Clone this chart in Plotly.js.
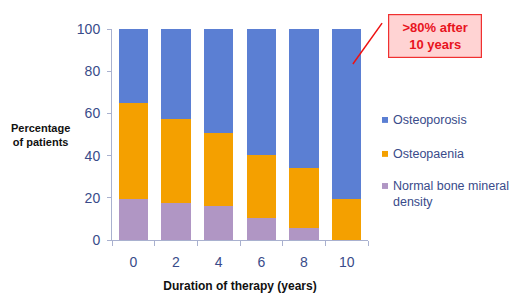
<!DOCTYPE html>
<html><head><meta charset="utf-8">
<script src="https://cdn.plot.ly/plotly-3.0.1.min.js"></script>
<style>html,body{margin:0;padding:0;background:#fff}#chart{width:511px;height:298px}</style>
</head><body><div id="chart"></div>
<script>
const years = ['0','2','4','6','8','10'];
const normalBMD = [19.3, 17.7, 16.3, 10.6, 5.5, 0];
const osteopaenia = [45.5, 39.5, 34.6, 29.8, 28.8, 19.4];
const osteoporosis = [35.2, 42.8, 49.1, 59.6, 65.7, 80.6];
const seriesNames = ['Normal bone mineral<br>density', 'Osteopaenia', 'Osteoporosis'];
const colors = ['#B096C4', '#F4A000', '#5B7FD3'];
const txt = '#394B8A';

const data = [normalBMD, osteopaenia, osteoporosis].map((v, i) => ({
  type: 'bar', x: years, y: v, name: seriesNames[i], showlegend: false,
  marker: {color: colors[i], line: {width: 0}}, hoverinfo: 'skip'
}));

// manual legend (top to bottom: Osteoporosis, Osteopaenia, Normal)
const legendY = [0.256, 0.408, 0.569]; // marker centres, paper coords
const legendShapes = [], legendAnn = [];
for (let i = 0; i < 3; i++) {
  legendShapes.push({type: 'rect', xref: 'paper', yref: 'paper',
    x0: 1.0547, x1: 1.0781, y0: legendY[i] - 0.014, y1: legendY[i] + 0.014,
    fillcolor: colors[i], line: {width: 0}});
  legendAnn.push({xref: 'paper', yref: 'paper', x: 1.088, y: legendY[i] + 0.042,
    xanchor: 'left', yanchor: 'top', align: 'left', showarrow: false,
    text: seriesNames[i], font: {size: 12.5, color: txt}});
}

const layout = {
  width: 511, height: 298, paper_bgcolor: '#fff', plot_bgcolor: '#fff',
  margin: {l: 112, r: 143, t: 29, b: 58, autoexpand: false},
  barmode: 'stack', bargap: 0.32, showlegend: false,
  font: {family: 'Liberation Sans, Arial, sans-serif', color: txt},
  xaxis: {type: 'category', showline: true, linecolor: '#A9B1CF', linewidth: 1,
    ticks: 'outside', tickson: 'boundaries', ticklen: 5, tickcolor: '#A9B1CF',
    ticklabelstandoff: 9,
    tickfont: {size: 14, color: txt}, showgrid: false, zeroline: false,
    title: {text: 'Duration of therapy (years)', font: {size: 12, color: '#111', weight: 'bold'}, standoff: 12}},
  yaxis: {range: [0, 100], dtick: 20, showline: true, linecolor: '#A9B1CF', linewidth: 1,
    ticks: 'outside', ticklen: 4, tickcolor: '#A9B1CF', showgrid: false, zeroline: false,
    ticklabelstandoff: 4,
    tickfont: {size: 14, color: txt}},
  annotations: [
    {xref: 'paper', yref: 'paper', x: -0.281, y: 0.498, xanchor: 'center', yanchor: 'middle',
     text: '<b>Percentage<br>of patients</b>', showarrow: false, align: 'center',
     font: {size: 11, color: '#111'}},
    {xref: 'paper', yref: 'paper', x: 1.262, y: 0.967, xanchor: 'center', yanchor: 'middle',
     text: '<b>>80% after<br>10 years</b>', showarrow: false, align: 'center',
     font: {size: 13, color: '#E8141E'}, bgcolor: '#FFD3D3', bordercolor: '#F03030',
     borderwidth: 1.2, borderpad: 5, width: 82}
  ].concat(legendAnn),
  shapes: [
    {type: 'line', xref: 'paper', yref: 'paper', x0: 1.055, y0: 1.028, x1: 0.941, y1: 0.834,
     line: {color: '#EE1111', width: 1.5}}
  ].concat(legendShapes)
};
Plotly.newPlot('chart', data, layout, {displayModeBar: false, staticPlot: true});
</script></body></html>
